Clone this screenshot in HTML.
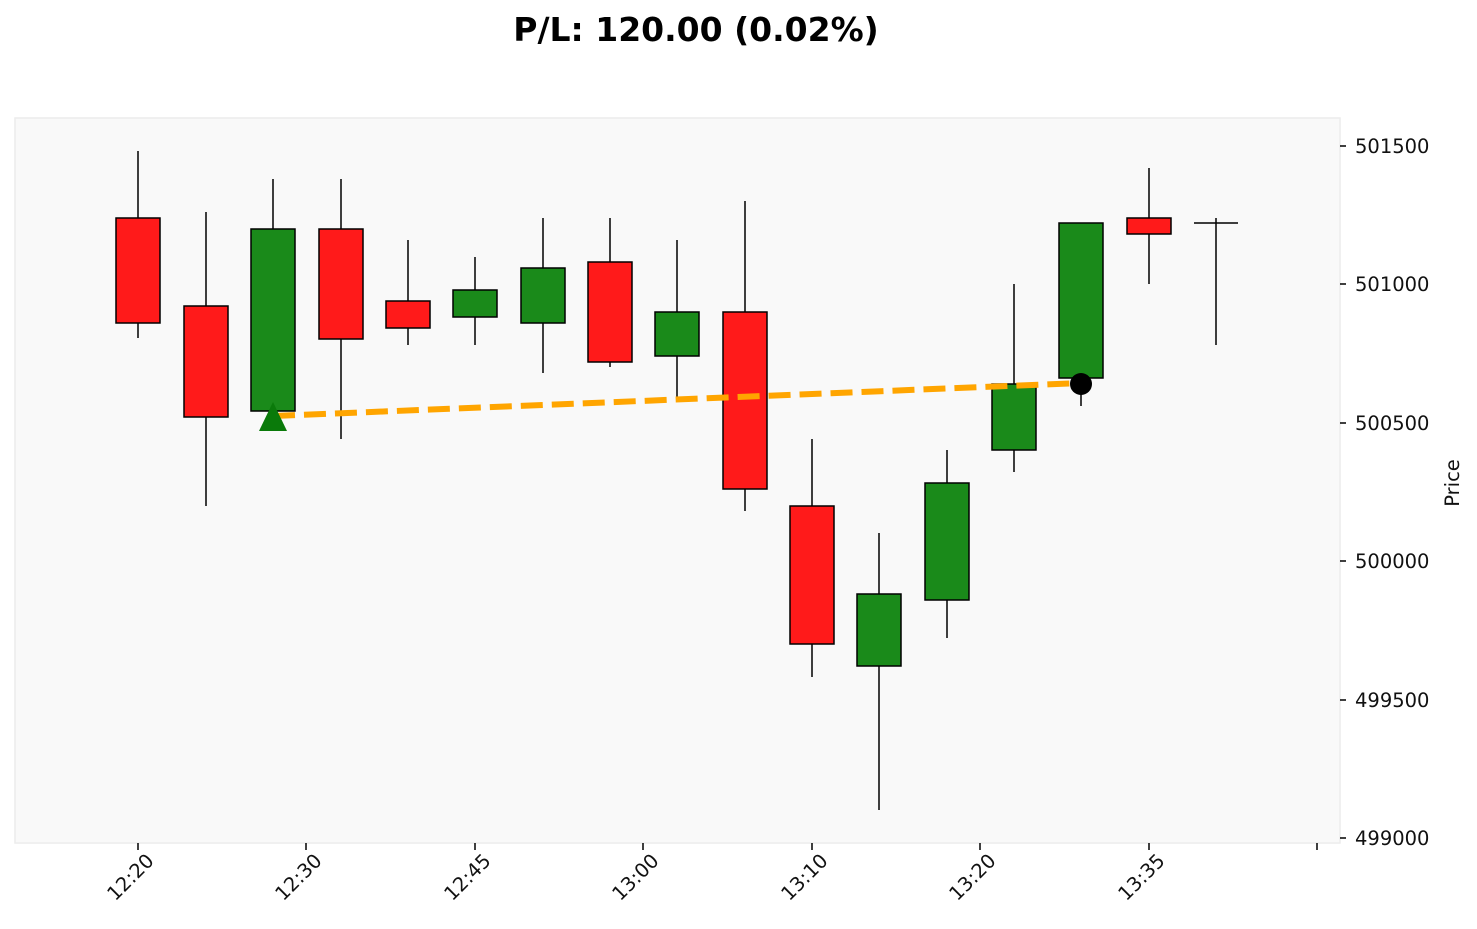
<!DOCTYPE html>
<html><head><meta charset="utf-8"><style>
body{margin:0;background:#fff;}
svg{display:block;font-family:"DejaVu Sans","Liberation Sans",sans-serif;}
</style></head><body>
<svg width="1477" height="929" viewBox="0 0 1477 929" xmlns="http://www.w3.org/2000/svg">
<text x="696" y="41" text-anchor="middle" font-size="33" font-weight="bold">P/L: 120.00 (0.02%)</text>
<rect x="15" y="118" width="1325" height="725" fill="#f9f9f9" stroke="#ececec" stroke-width="1.5"/>
<g stroke="#000" stroke-width="1.5">
<line x1="138" y1="151" x2="138" y2="338"/><rect x="116" y="218" width="44" height="105" fill="#ff1a1a"/>
<line x1="206" y1="212" x2="206" y2="506"/><rect x="184" y="306" width="44" height="111" fill="#ff1a1a"/>
<line x1="273" y1="179" x2="273" y2="415"/><rect x="251" y="229" width="44" height="182" fill="#1a8a1a"/>
<line x1="341" y1="179" x2="341" y2="439"/><rect x="319" y="229" width="44" height="110" fill="#ff1a1a"/>
<line x1="408" y1="240" x2="408" y2="345"/><rect x="386" y="301" width="44" height="27" fill="#ff1a1a"/>
<line x1="475" y1="257" x2="475" y2="345"/><rect x="453" y="290" width="44" height="27" fill="#1a8a1a"/>
<line x1="543" y1="218" x2="543" y2="373"/><rect x="521" y="268" width="44" height="55" fill="#1a8a1a"/>
<line x1="610" y1="218" x2="610" y2="367"/><rect x="588" y="262" width="44" height="100" fill="#ff1a1a"/>
<line x1="677" y1="240" x2="677" y2="398"/><rect x="655" y="312" width="44" height="44" fill="#1a8a1a"/>
<line x1="745" y1="201" x2="745" y2="511"/><rect x="723" y="312" width="44" height="177" fill="#ff1a1a"/>
<line x1="812" y1="439" x2="812" y2="677"/><rect x="790" y="506" width="44" height="138" fill="#ff1a1a"/>
<line x1="879" y1="533" x2="879" y2="810"/><rect x="857" y="594" width="44" height="72" fill="#1a8a1a"/>
<line x1="947" y1="450" x2="947" y2="638"/><rect x="925" y="483" width="44" height="117" fill="#1a8a1a"/>
<line x1="1014" y1="284" x2="1014" y2="472"/><rect x="992" y="384" width="44" height="66" fill="#1a8a1a"/>
<line x1="1081" y1="378" x2="1081" y2="406"/><rect x="1059" y="223" width="44" height="155" fill="#1a8a1a"/>
<line x1="1149" y1="168" x2="1149" y2="284"/><rect x="1127" y="218" width="44" height="16" fill="#ff1a1a"/>
<line x1="1216" y1="218" x2="1216" y2="345"/><line x1="1194" y1="223" x2="1238" y2="223"/>
</g>
<line x1="273" y1="416" x2="1081" y2="383" stroke="#ffa500" stroke-width="6" stroke-dasharray="22,9"/>
<polygon points="273,402 259,431 287,431" fill="#0a7a0a"/>
<circle cx="1081" cy="384" r="11" fill="#000"/>
<g font-size="19.5" fill="#111">
<g stroke="#000" stroke-width="1.5">
<line x1="1340" y1="146" x2="1346" y2="146"/><line x1="1340" y1="284" x2="1346" y2="284"/><line x1="1340" y1="423" x2="1346" y2="423"/><line x1="1340" y1="561" x2="1346" y2="561"/><line x1="1340" y1="700" x2="1346" y2="700"/><line x1="1340" y1="838" x2="1346" y2="838"/>
<line x1="138" y1="843" x2="138" y2="850"/><line x1="306" y1="843" x2="306" y2="850"/><line x1="475" y1="843" x2="475" y2="850"/><line x1="643" y1="843" x2="643" y2="850"/><line x1="812" y1="843" x2="812" y2="850"/><line x1="980" y1="843" x2="980" y2="850"/><line x1="1149" y1="843" x2="1149" y2="850"/><line x1="1317" y1="843" x2="1317" y2="850"/>
</g>
<text x="1355" y="153">501500</text><text x="1355" y="291">501000</text><text x="1355" y="430">500500</text><text x="1355" y="568">500000</text><text x="1355" y="707">499500</text><text x="1355" y="845">499000</text>
<text transform="translate(1459,483) rotate(-90)" text-anchor="middle">Price</text>
<g text-anchor="end">
<text transform="translate(155,862) rotate(-45)">12:20</text>
<text transform="translate(323,862) rotate(-45)">12:30</text>
<text transform="translate(492,862) rotate(-45)">12:45</text>
<text transform="translate(660,862) rotate(-45)">13:00</text>
<text transform="translate(829,862) rotate(-45)">13:10</text>
<text transform="translate(997,862) rotate(-45)">13:20</text>
<text transform="translate(1166,862) rotate(-45)">13:35</text>
</g>
</g>
</svg>
</body></html>
